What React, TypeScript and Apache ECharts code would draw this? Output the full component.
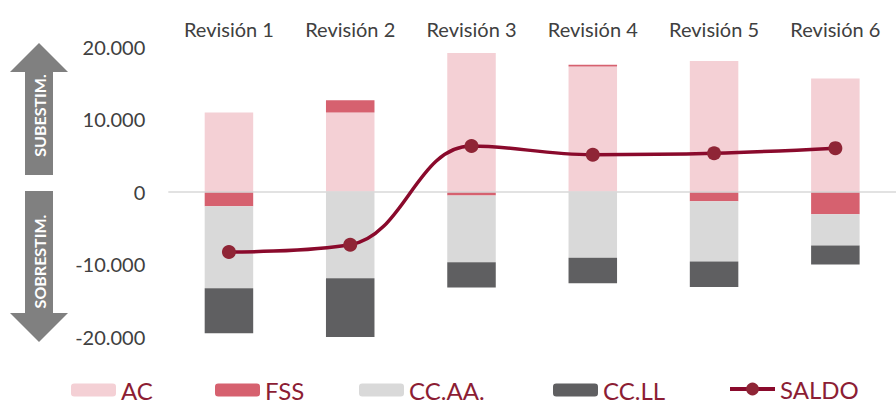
import React, { useEffect, useRef } from "react";
import * as echarts from "echarts";

const categories = ["Revisión 1", "Revisión 2", "Revisión 3", "Revisión 4", "Revisión 5", "Revisión 6"];
const acValues = [10900, 10900, 19100, 17250, 18000, 15600];
const fssValues = [-2000, 1700, -500, 250, -1300, -3100];
const ccaaValues = [-11300, -11900, -9200, -9100, -8300, -4300];
const ccllValues = [-6200, -8200, -3500, -3500, -3500, -2600];
const saldoValues = [-8300, -7300, 6300, 5100, 5300, 6000];
const yTicks = { min: -20000, max: 20000, interval: 10000 };

const FONT = "Lato, 'Open Sans', sans-serif";

function fmt(v: number): string {
  const s = Math.abs(v).toString();
  const withDots = s.replace(/\B(?=(\d{3})+(?!\d))/g, ".");
  return (v < 0 ? "-" : "") + withDots;
}

export default function App() {
  const ref = useRef<HTMLDivElement>(null);
  useEffect(() => {
    document.body.style.margin = "0";
    if (!ref.current) return;
    const chart = echarts.init(ref.current, undefined, { renderer: "svg" });
    const legendText = { color: "#8c1d34", fontSize: 24, fontFamily: FONT };
    const mkLegend = (name: string, left: number, extra: any = {}) => ({
      data: [name],
      left,
      top: 378,
      padding: 0,
      itemWidth: 45,
      itemHeight: 13,
      itemGap: 5,
      textStyle: legendText,
      selectedMode: false,
      ...extra,
    });
    chart.setOption({
      animation: false,
      backgroundColor: "#ffffff",
      grid: { left: 168.3, right: -12.7, top: 46.5, bottom: 66, containLabel: false },
      legend: [
        mkLegend("AC", 71),
        mkLegend("FSS", 215),
        mkLegend("CC.AA.", 359),
        mkLegend("CC.LL", 553),
        mkLegend("SALDO", 728, { itemHeight: 16, top: 377, lineStyle: { width: 4 } }),
      ],
      xAxis: {
        type: "category",
        data: categories,
        position: "top",
        axisLine: { show: false },
        axisTick: { show: false },
        axisLabel: { color: "#404040", fontSize: 20, fontFamily: FONT, margin: 8, interval: 0 },
      },
      yAxis: {
        type: "value",
        min: yTicks.min,
        max: yTicks.max,
        interval: yTicks.interval,
        axisLine: { show: false },
        axisTick: { show: false },
        splitLine: { show: false },
        axisLabel: {
          color: "#404040",
          fontSize: 20,
          fontFamily: FONT,
          margin: 23,
          formatter: (v: number) => fmt(v),
        },
      },
      series: [
        {
          name: "AC",
          type: "bar",
          stack: "s",
          data: acValues,
          barWidth: "40%",
          itemStyle: { color: "#f4d0d5" },
          markLine: {
            silent: true,
            symbol: "none",
            label: { show: false },
            lineStyle: { color: "#d9d9d9", width: 1.5, type: "solid" },
            data: [{ yAxis: 0 }],
          },
        },
        { name: "FSS", type: "bar", stack: "s", data: fssValues, barWidth: "40%", itemStyle: { color: "#d6616f" } },
        { name: "CC.AA.", type: "bar", stack: "s", data: ccaaValues, barWidth: "40%", itemStyle: { color: "#d9d9d9" } },
        { name: "CC.LL", type: "bar", stack: "s", data: ccllValues, barWidth: "40%", itemStyle: { color: "#5f5f61" } },
        {
          name: "SALDO",
          type: "line",
          data: saldoValues,
          smooth: 0.4,
          symbol: "circle",
          symbolSize: 14,
          z: 5,
          lineStyle: { color: "#8a0a2c", width: 3.5 },
          itemStyle: { color: "#8f2536" },
        },
      ],
      graphic: [
        {
          type: "polygon",
          shape: {
            points: [
              [39, 43], [68, 72], [53, 72], [53, 175], [25, 175], [25, 72], [10, 72],
            ],
          },
          style: { fill: "#808080" },
        },
        {
          type: "polygon",
          shape: {
            points: [
              [25, 191], [53, 191], [53, 313], [68, 313], [39, 342], [10, 313], [25, 313],
            ],
          },
          style: { fill: "#808080" },
        },
        {
          type: "text",
          x: 39.5,
          y: 115.5,
          rotation: Math.PI / 2,
          style: {
            text: "SUBESTIM.",
            fill: "#ffffff",
            fontSize: 16,
            fontWeight: "bold",
            fontFamily: FONT,
            align: "center",
            verticalAlign: "middle",
          },
        },
        {
          type: "text",
          x: 39.5,
          y: 261.5,
          rotation: Math.PI / 2,
          style: {
            text: "SOBRESTIM.",
            fill: "#ffffff",
            fontSize: 16,
            fontWeight: "bold",
            fontFamily: FONT,
            align: "center",
            verticalAlign: "middle",
          },
        },
      ],
    });
    return () => chart.dispose();
  }, []);
  return <div ref={ref} style={{ width: 896, height: 403 }} />;
}
